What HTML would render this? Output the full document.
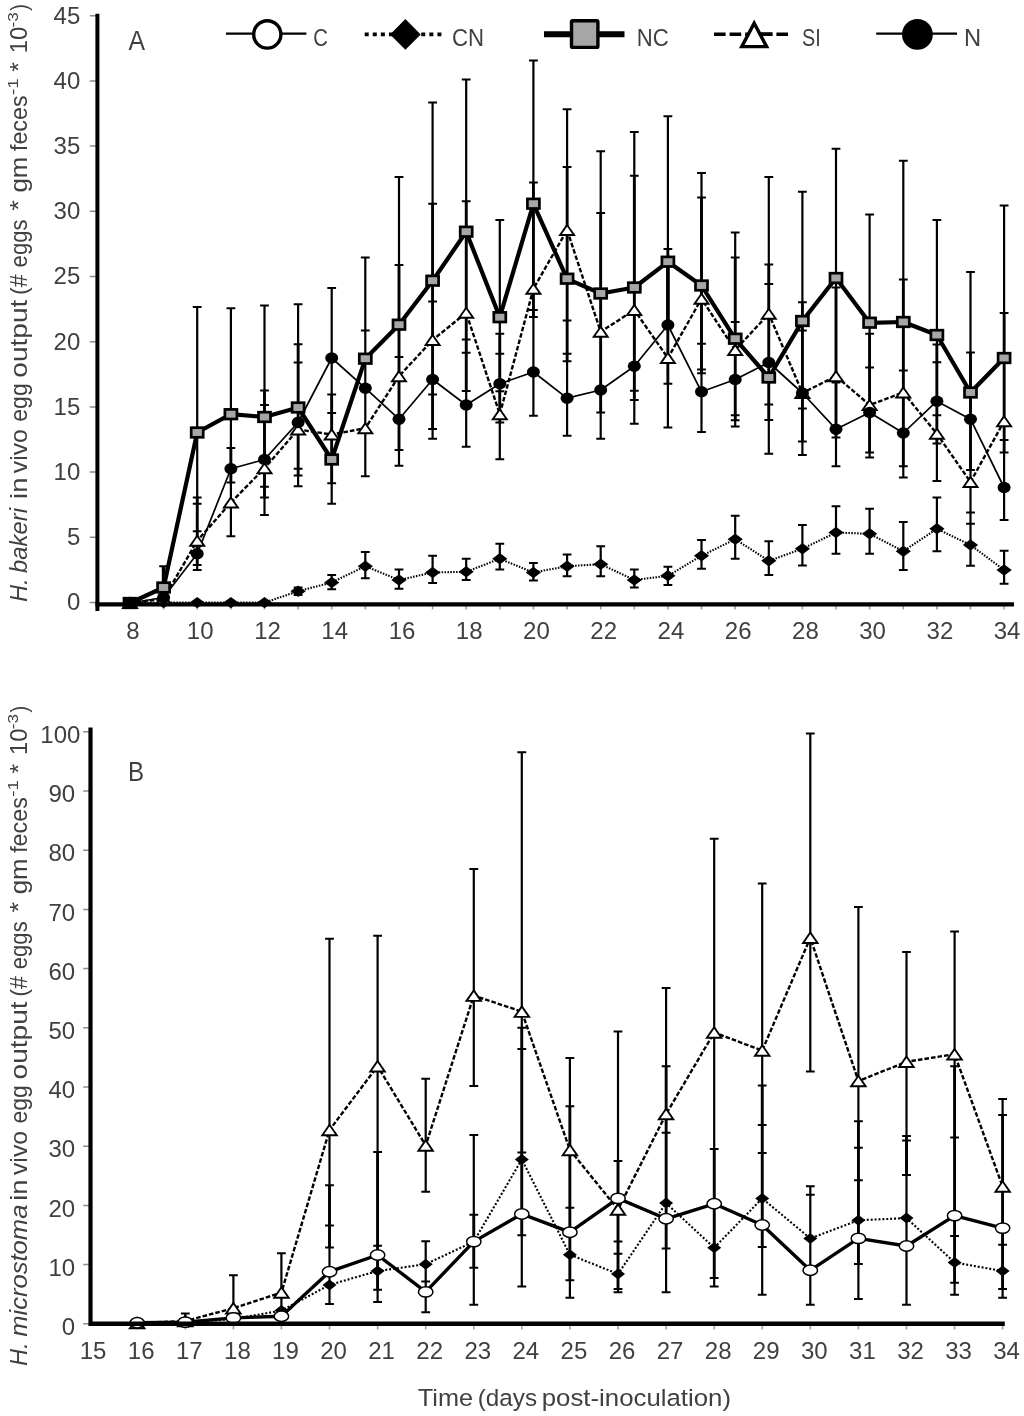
<!DOCTYPE html>
<html lang="en">
<head>
<meta charset="utf-8">
<title>In vivo egg output</title>
<style>
html,body{margin:0;padding:0;background:#fff;}
svg{display:block;}
text{font-family:'Liberation Sans', 'DejaVu Sans', sans-serif;fill:#404040;}
</style>
</head>
<body>
<svg width="1024" height="1416" viewBox="0 0 1024 1416" role="img" aria-label="In vivo egg output charts">
<rect width="1024" height="1416" fill="#fff"/>
<defs><filter id="soft" x="0" y="0" width="1024" height="1416" filterUnits="userSpaceOnUse"><feGaussianBlur stdDeviation="0.45"/></filter></defs>
<g filter="url(#soft)">
<g id="chartA">
<path d="M89.8 602.5H96M89.8 537.3H96M89.8 472.1H96M89.8 406.9H96M89.8 341.7H96M89.8 276.5H96M89.8 211.3H96M89.8 146.1H96M89.8 80.9H96M89.8 15.7H96" stroke="#8c8c8c" stroke-width="1.5" fill="none"/>
<path d="M163.6 606V609.5M197.2 606V609.5M230.9 606V609.5M264.5 606V609.5M298.1 606V609.5M331.7 606V609.5M365.3 606V609.5M399.0 606V609.5M432.6 606V609.5M466.2 606V609.5M499.8 606V609.5M533.4 606V609.5M567.1 606V609.5M600.7 606V609.5M634.3 606V609.5M667.9 606V609.5M701.5 606V609.5M735.2 606V609.5M768.8 606V609.5M802.4 606V609.5M836.0 606V609.5M869.6 606V609.5M903.3 606V609.5M936.9 606V609.5M970.5 606V609.5M1004.1 606V609.5" stroke="#a0a0a0" stroke-width="1.6" fill="none"/>
<text x="80.3" y="610.4" font-size="24" text-anchor="end" >0</text>
<text x="80.3" y="545.2" font-size="24" text-anchor="end" >5</text>
<text x="80.3" y="480.0" font-size="24" text-anchor="end" >10</text>
<text x="80.3" y="414.8" font-size="24" text-anchor="end" >15</text>
<text x="80.3" y="349.6" font-size="24" text-anchor="end" >20</text>
<text x="80.3" y="284.4" font-size="24" text-anchor="end" >25</text>
<text x="80.3" y="219.2" font-size="24" text-anchor="end" >30</text>
<text x="80.3" y="154.0" font-size="24" text-anchor="end" >35</text>
<text x="80.3" y="88.8" font-size="24" text-anchor="end" >40</text>
<text x="80.3" y="23.6" font-size="24" text-anchor="end" >45</text>
<text x="133.0" y="639.2" font-size="24" text-anchor="middle" >8</text>
<text x="200.2" y="639.2" font-size="24" text-anchor="middle" >10</text>
<text x="267.5" y="639.2" font-size="24" text-anchor="middle" >12</text>
<text x="334.7" y="639.2" font-size="24" text-anchor="middle" >14</text>
<text x="402.0" y="639.2" font-size="24" text-anchor="middle" >16</text>
<text x="469.2" y="639.2" font-size="24" text-anchor="middle" >18</text>
<text x="536.4" y="639.2" font-size="24" text-anchor="middle" >20</text>
<text x="603.7" y="639.2" font-size="24" text-anchor="middle" >22</text>
<text x="670.9" y="639.2" font-size="24" text-anchor="middle" >24</text>
<text x="738.2" y="639.2" font-size="24" text-anchor="middle" >26</text>
<text x="805.4" y="639.2" font-size="24" text-anchor="middle" >28</text>
<text x="872.6" y="639.2" font-size="24" text-anchor="middle" >30</text>
<text x="939.9" y="639.2" font-size="24" text-anchor="middle" >32</text>
<text x="1007.1" y="639.2" font-size="24" text-anchor="middle" >34</text>
<path d="M163.6 566.2V600.0M197.2 307.0V570.0M230.9 308.2V536.2M264.5 305.5V515.0M298.1 304.2V486.2M331.7 288.1V503.8M365.3 257.5V476.2M399.0 177.0V465.8M432.6 102.5V438.8M466.2 79.5V446.8M499.8 220.0V459.2M533.4 60.5V415.8M567.1 109.2V435.8M600.7 151.2V438.8M634.3 132.0V423.8M667.9 116.2V427.5M701.5 173.0V432.0M735.2 232.5V426.2M768.8 177.0V453.8M802.4 191.8V455.0M836.0 148.8V466.2M869.6 214.5V457.5M903.3 160.8V477.5M936.9 220.0V481.2M970.5 272.0V524.0M1004.1 205.5V520.0" stroke="#000" stroke-width="2.2" fill="none"/>
<path d="M197.2 497.5V565.0M230.9 448.0V482.5M264.5 390.5V497.5M298.1 344.2V475.5M331.7 394.5V483.2M399.0 265.0V450.0M432.6 203.8V429.1M466.2 201.2V390.9M499.8 333.8V422.5M533.4 182.5V317.0M567.1 167.0V361.2M600.7 213.0V412.5M634.3 175.8V400.0M667.9 249.0V383.8M701.5 197.5V373.2M735.2 257.5V420.2M768.8 264.5V420.0M802.4 302.3V441.4M836.0 287.5V437.5M869.6 333.8V452.5M903.3 279.5V466.2M936.9 344.5V443.6M970.5 352.5V470.0M1004.1 313.0V452.5" stroke="#000" stroke-width="2.8" fill="none"/>
<path d="M159.2 566.2H168.0M192.8 307.0H201.6M192.8 497.5H201.6M192.8 503.8H201.6M192.8 531.2H201.6M192.8 565.0H201.6M192.8 570.0H201.6M226.5 308.2H235.3M226.5 448.0H235.3M226.5 482.5H235.3M226.5 536.2H235.3M260.1 305.5H268.9M260.1 390.5H268.9M260.1 405.0H268.9M260.1 486.8H268.9M260.1 497.5H268.9M260.1 515.0H268.9M293.7 304.2H302.5M293.7 344.2H302.5M293.7 362.5H302.5M293.7 468.8H302.5M293.7 475.5H302.5M293.7 486.2H302.5M327.3 288.1H336.1M327.3 394.5H336.1M327.3 413.0H336.1M327.3 483.2H336.1M327.3 503.8H336.1M360.9 257.5H369.7M360.9 330.5H369.7M360.9 476.2H369.7M394.6 177.0H403.4M394.6 265.0H403.4M394.6 357.0H403.4M394.6 450.0H403.4M394.6 465.8H403.4M428.2 102.5H437.0M428.2 203.8H437.0M428.2 301.5H437.0M428.2 394.6H437.0M428.2 429.1H437.0M428.2 438.8H437.0M461.8 79.5H470.6M461.8 201.2H470.6M461.8 339.5H470.6M461.8 352.8H470.6M461.8 390.9H470.6M461.8 446.8H470.6M495.4 220.0H504.2M495.4 333.8H504.2M495.4 353.8H504.2M495.4 391.2H504.2M495.4 422.5H504.2M495.4 459.2H504.2M529.0 60.5H537.8M529.0 182.5H537.8M529.0 310.0H537.8M529.0 317.0H537.8M529.0 415.8H537.8M562.7 109.2H571.5M562.7 167.0H571.5M562.7 320.5H571.5M562.7 353.8H571.5M562.7 361.2H571.5M562.7 435.8H571.5M596.3 151.2H605.1M596.3 213.0H605.1M596.3 412.5H605.1M596.3 438.8H605.1M629.9 132.0H638.7M629.9 175.8H638.7M629.9 390.8H638.7M629.9 400.0H638.7M629.9 423.8H638.7M663.5 116.2H672.3M663.5 249.0H672.3M663.5 383.8H672.3M663.5 427.5H672.3M697.1 173.0H705.9M697.1 197.5H705.9M697.1 343.8H705.9M697.1 369.5H705.9M697.1 373.2H705.9M697.1 432.0H705.9M730.8 232.5H739.6M730.8 257.5H739.6M730.8 322.0H739.6M730.8 415.2H739.6M730.8 420.2H739.6M730.8 426.4H739.6M764.4 177.0H773.2M764.4 264.5H773.2M764.4 284.0H773.2M764.4 404.5H773.2M764.4 420.0H773.2M764.4 453.8H773.2M798.0 191.8H806.8M798.0 302.3H806.8M798.0 330.4H806.8M798.0 408.5H806.8M798.0 441.4H806.8M798.0 455.0H806.8M831.6 148.8H840.4M831.6 287.5H840.4M831.6 382.5H840.4M831.6 437.5H840.4M831.6 466.2H840.4M865.2 214.5H874.0M865.2 333.8H874.0M865.2 367.5H874.0M865.2 452.5H874.0M865.2 457.5H874.0M898.9 160.8H907.7M898.9 279.5H907.7M898.9 370.5H907.7M898.9 466.2H907.7M898.9 477.5H907.7M932.5 220.0H941.3M932.5 344.5H941.3M932.5 362.2H941.3M932.5 415.3H941.3M932.5 443.6H941.3M932.5 481.0H941.3M966.1 272.0H974.9M966.1 352.5H974.9M966.1 470.0H974.9M966.1 512.5H974.9M999.7 205.5H1008.5M999.7 313.0H1008.5M999.7 440.0H1008.5M999.7 452.5H1008.5M999.7 520.0H1008.5" stroke="#000" stroke-width="2.0" fill="none"/>
<path d="M667.9 262V325M163.6 567V588" stroke="#000" stroke-width="3.6" fill="none"/>
<path d="M298.1 587.5V595.0M331.7 575.0V589.2M365.3 552.0V578.2M399.0 569.5V588.8M432.6 555.8V583.0M466.2 558.8V580.0M499.8 543.8V569.5M533.4 563.0V580.5M567.1 554.5V576.2M600.7 546.2V576.2M634.3 569.5V587.5M667.9 566.8V585.0M701.5 540.0V568.8M735.2 515.8V558.8M768.8 541.2V575.0M802.4 525.0V565.5M836.0 506.2V553.8M869.6 508.8V553.8M903.3 522.0V570.0M936.9 497.5V551.2M970.5 523.8V565.8M1004.1 550.8V583.8" stroke="#000" stroke-width="2.2" fill="none"/>
<path d="M293.7 587.5H302.5M293.7 595.0H302.5M327.3 575.0H336.1M327.3 589.2H336.1M360.9 552.0H369.7M360.9 578.2H369.7M394.6 569.5H403.4M394.6 588.8H403.4M428.2 555.8H437.0M428.2 583.0H437.0M461.8 558.8H470.6M461.8 580.0H470.6M495.4 543.8H504.2M495.4 569.5H504.2M529.0 563.0H537.8M529.0 580.5H537.8M562.7 554.5H571.5M562.7 576.2H571.5M596.3 546.2H605.1M596.3 576.2H605.1M629.9 569.5H638.7M629.9 587.5H638.7M663.5 566.8H672.3M663.5 585.0H672.3M697.1 540.0H705.9M697.1 568.8H705.9M730.8 515.8H739.6M730.8 558.8H739.6M764.4 541.2H773.2M764.4 575.0H773.2M798.0 525.0H806.8M798.0 565.5H806.8M831.6 506.2H840.4M831.6 553.8H840.4M865.2 508.8H874.0M865.2 553.8H874.0M898.9 522.0H907.7M898.9 570.0H907.7M932.5 497.5H941.3M932.5 551.2H941.3M966.1 523.8H974.9M966.1 565.8H974.9M999.7 550.8H1008.5M999.7 583.8H1008.5" stroke="#000" stroke-width="2.0" fill="none"/>
<polyline points="130.0,603.0 163.6,602.6 197.2,602.6 230.9,602.6 264.5,602.6 298.1,591.2 331.7,582.5 365.3,566.2 399.0,580.0 432.6,572.5 466.2,571.8 499.8,558.8 533.4,572.5 567.1,566.2 600.7,564.2 634.3,580.0 667.9,575.8 701.5,555.8 735.2,539.2 768.8,560.8 802.4,548.8 836.0,532.5 869.6,533.8 903.3,551.2 936.9,528.8 970.5,545.0 1004.1,570.0" fill="none" stroke="#000" stroke-linejoin="round" stroke-width="2.1" stroke-dasharray="1.5 1.4"/>
<polyline points="130.0,603.0 163.6,587.5 197.2,432.5 230.9,414.2 264.5,417.0 298.1,407.5 331.7,459.5 365.3,358.8 399.0,324.8 432.6,280.8 466.2,231.8 499.8,317.2 533.4,203.8 567.1,278.8 600.7,293.5 634.3,287.5 667.9,261.8 701.5,285.5 735.2,338.8 768.8,377.5 802.4,321.0 836.0,278.0 869.6,322.8 903.3,322.0 936.9,335.0 970.5,392.5 1004.1,358.0" fill="none" stroke="#000" stroke-linejoin="round" stroke-width="4.2"/>
<polyline points="130.0,603.0 163.6,598.8 197.2,540.8 230.9,502.5 264.5,468.2 298.1,429.5 331.7,434.5 365.3,428.2 399.0,376.2 432.6,340.0 466.2,312.8 499.8,414.2 533.4,288.8 567.1,230.0 600.7,331.8 634.3,310.0 667.9,358.0 701.5,298.8 735.2,350.0 768.8,313.8 802.4,393.0 836.0,376.2 869.6,405.0 903.3,392.5 936.9,433.8 970.5,482.0 1004.1,421.2" fill="none" stroke="#000" stroke-linejoin="round" stroke-width="2.4" stroke-dasharray="4.6 2"/>
<polyline points="130.0,603.0 163.6,597.5 197.2,553.8 230.9,468.8 264.5,459.5 298.1,422.5 331.7,358.0 365.3,388.2 399.0,419.2 432.6,379.5 466.2,405.0 499.8,383.8 533.4,372.0 567.1,398.2 600.7,390.0 634.3,366.2 667.9,325.0 701.5,391.8 735.2,379.5 768.8,362.5 802.4,393.0 836.0,429.2 869.6,412.5 903.3,433.0 936.9,401.2 970.5,419.2 1004.1,487.5" fill="none" stroke="#000" stroke-linejoin="round" stroke-width="1.7"/>
<path d="M130.0 597.3L137.6 603.0L130.0 608.7L122.4 603.0ZM163.6 596.9L171.2 602.6L163.6 608.3L156.0 602.6ZM197.2 596.9L204.8 602.6L197.2 608.3L189.6 602.6ZM230.9 596.9L238.5 602.6L230.9 608.3L223.3 602.6ZM264.5 596.9L272.1 602.6L264.5 608.3L256.9 602.6ZM298.1 585.5L305.7 591.2L298.1 597.0L290.5 591.2ZM331.7 576.8L339.3 582.5L331.7 588.2L324.1 582.5ZM365.3 560.5L372.9 566.2L365.3 572.0L357.7 566.2ZM399.0 574.3L406.6 580.0L399.0 585.7L391.4 580.0ZM432.6 566.8L440.2 572.5L432.6 578.2L425.0 572.5ZM466.2 566.0L473.8 571.8L466.2 577.5L458.6 571.8ZM499.8 553.0L507.4 558.8L499.8 564.5L492.2 558.8ZM533.4 566.8L541.0 572.5L533.4 578.2L525.8 572.5ZM567.1 560.5L574.7 566.2L567.1 572.0L559.5 566.2ZM600.7 558.5L608.3 564.2L600.7 570.0L593.1 564.2ZM634.3 574.3L641.9 580.0L634.3 585.7L626.7 580.0ZM667.9 570.0L675.5 575.8L667.9 581.5L660.3 575.8ZM701.5 550.0L709.1 555.8L701.5 561.5L693.9 555.8ZM735.2 533.5L742.8 539.2L735.2 545.0L727.6 539.2ZM768.8 555.0L776.4 560.8L768.8 566.5L761.2 560.8ZM802.4 543.0L810.0 548.8L802.4 554.5L794.8 548.8ZM836.0 526.8L843.6 532.5L836.0 538.2L828.4 532.5ZM869.6 528.0L877.2 533.8L869.6 539.5L862.0 533.8ZM903.3 545.5L910.9 551.2L903.3 557.0L895.7 551.2ZM936.9 523.0L944.5 528.8L936.9 534.5L929.3 528.8ZM970.5 539.3L978.1 545.0L970.5 550.7L962.9 545.0ZM1004.1 564.3L1011.7 570.0L1004.1 575.7L996.5 570.0Z" fill="#000"/>
<rect x="124.0" y="598.2" width="12.0" height="9.6" fill="#a6a6a6" stroke="#000" stroke-width="2.7"/>
<rect x="157.6" y="582.7" width="12.0" height="9.6" fill="#a6a6a6" stroke="#000" stroke-width="2.7"/>
<rect x="191.2" y="427.7" width="12.0" height="9.6" fill="#a6a6a6" stroke="#000" stroke-width="2.7"/>
<rect x="224.9" y="409.4" width="12.0" height="9.6" fill="#a6a6a6" stroke="#000" stroke-width="2.7"/>
<rect x="258.5" y="412.2" width="12.0" height="9.6" fill="#a6a6a6" stroke="#000" stroke-width="2.7"/>
<rect x="292.1" y="402.7" width="12.0" height="9.6" fill="#a6a6a6" stroke="#000" stroke-width="2.7"/>
<rect x="325.7" y="454.7" width="12.0" height="9.6" fill="#a6a6a6" stroke="#000" stroke-width="2.7"/>
<rect x="359.3" y="353.9" width="12.0" height="9.6" fill="#a6a6a6" stroke="#000" stroke-width="2.7"/>
<rect x="393.0" y="319.9" width="12.0" height="9.6" fill="#a6a6a6" stroke="#000" stroke-width="2.7"/>
<rect x="426.6" y="275.9" width="12.0" height="9.6" fill="#a6a6a6" stroke="#000" stroke-width="2.7"/>
<rect x="460.2" y="226.9" width="12.0" height="9.6" fill="#a6a6a6" stroke="#000" stroke-width="2.7"/>
<rect x="493.8" y="312.4" width="12.0" height="9.6" fill="#a6a6a6" stroke="#000" stroke-width="2.7"/>
<rect x="527.4" y="198.9" width="12.0" height="9.6" fill="#a6a6a6" stroke="#000" stroke-width="2.7"/>
<rect x="561.1" y="273.9" width="12.0" height="9.6" fill="#a6a6a6" stroke="#000" stroke-width="2.7"/>
<rect x="594.7" y="288.7" width="12.0" height="9.6" fill="#a6a6a6" stroke="#000" stroke-width="2.7"/>
<rect x="628.3" y="282.7" width="12.0" height="9.6" fill="#a6a6a6" stroke="#000" stroke-width="2.7"/>
<rect x="661.9" y="256.9" width="12.0" height="9.6" fill="#a6a6a6" stroke="#000" stroke-width="2.7"/>
<rect x="695.5" y="280.7" width="12.0" height="9.6" fill="#a6a6a6" stroke="#000" stroke-width="2.7"/>
<rect x="729.2" y="333.9" width="12.0" height="9.6" fill="#a6a6a6" stroke="#000" stroke-width="2.7"/>
<rect x="762.8" y="372.7" width="12.0" height="9.6" fill="#a6a6a6" stroke="#000" stroke-width="2.7"/>
<rect x="796.4" y="316.2" width="12.0" height="9.6" fill="#a6a6a6" stroke="#000" stroke-width="2.7"/>
<rect x="830.0" y="273.2" width="12.0" height="9.6" fill="#a6a6a6" stroke="#000" stroke-width="2.7"/>
<rect x="863.6" y="317.9" width="12.0" height="9.6" fill="#a6a6a6" stroke="#000" stroke-width="2.7"/>
<rect x="897.3" y="317.2" width="12.0" height="9.6" fill="#a6a6a6" stroke="#000" stroke-width="2.7"/>
<rect x="930.9" y="330.2" width="12.0" height="9.6" fill="#a6a6a6" stroke="#000" stroke-width="2.7"/>
<rect x="964.5" y="387.7" width="12.0" height="9.6" fill="#a6a6a6" stroke="#000" stroke-width="2.7"/>
<rect x="998.1" y="353.2" width="12.0" height="9.6" fill="#a6a6a6" stroke="#000" stroke-width="2.7"/>
<path d="M130.0 598.0L137.0 608.0H123.0Z" fill="#fff" stroke="#000" stroke-width="1.9" stroke-linejoin="miter"/>
<path d="M163.6 593.8L170.6 603.8H156.6Z" fill="#fff" stroke="#000" stroke-width="1.9" stroke-linejoin="miter"/>
<path d="M197.2 535.8L204.2 545.8H190.2Z" fill="#fff" stroke="#000" stroke-width="1.9" stroke-linejoin="miter"/>
<path d="M230.9 497.5L237.9 507.5H223.9Z" fill="#fff" stroke="#000" stroke-width="1.9" stroke-linejoin="miter"/>
<path d="M264.5 463.2L271.5 473.2H257.5Z" fill="#fff" stroke="#000" stroke-width="1.9" stroke-linejoin="miter"/>
<path d="M298.1 424.5L305.1 434.5H291.1Z" fill="#fff" stroke="#000" stroke-width="1.9" stroke-linejoin="miter"/>
<path d="M331.7 429.5L338.7 439.5H324.7Z" fill="#fff" stroke="#000" stroke-width="1.9" stroke-linejoin="miter"/>
<path d="M365.3 423.2L372.3 433.2H358.3Z" fill="#fff" stroke="#000" stroke-width="1.9" stroke-linejoin="miter"/>
<path d="M399.0 371.2L406.0 381.2H392.0Z" fill="#fff" stroke="#000" stroke-width="1.9" stroke-linejoin="miter"/>
<path d="M432.6 335.0L439.6 345.0H425.6Z" fill="#fff" stroke="#000" stroke-width="1.9" stroke-linejoin="miter"/>
<path d="M466.2 307.8L473.2 317.8H459.2Z" fill="#fff" stroke="#000" stroke-width="1.9" stroke-linejoin="miter"/>
<path d="M499.8 409.2L506.8 419.2H492.8Z" fill="#fff" stroke="#000" stroke-width="1.9" stroke-linejoin="miter"/>
<path d="M533.4 283.8L540.4 293.8H526.4Z" fill="#fff" stroke="#000" stroke-width="1.9" stroke-linejoin="miter"/>
<path d="M567.1 225.0L574.1 235.0H560.1Z" fill="#fff" stroke="#000" stroke-width="1.9" stroke-linejoin="miter"/>
<path d="M600.7 326.8L607.7 336.8H593.7Z" fill="#fff" stroke="#000" stroke-width="1.9" stroke-linejoin="miter"/>
<path d="M634.3 305.0L641.3 315.0H627.3Z" fill="#fff" stroke="#000" stroke-width="1.9" stroke-linejoin="miter"/>
<path d="M667.9 353.0L674.9 363.0H660.9Z" fill="#fff" stroke="#000" stroke-width="1.9" stroke-linejoin="miter"/>
<path d="M701.5 293.8L708.5 303.8H694.5Z" fill="#fff" stroke="#000" stroke-width="1.9" stroke-linejoin="miter"/>
<path d="M735.2 345.0L742.2 355.0H728.2Z" fill="#fff" stroke="#000" stroke-width="1.9" stroke-linejoin="miter"/>
<path d="M768.8 308.8L775.8 318.8H761.8Z" fill="#fff" stroke="#000" stroke-width="1.9" stroke-linejoin="miter"/>
<path d="M802.4 388.0L809.4 398.0H795.4Z" fill="#fff" stroke="#000" stroke-width="1.9" stroke-linejoin="miter"/>
<path d="M836.0 371.2L843.0 381.2H829.0Z" fill="#fff" stroke="#000" stroke-width="1.9" stroke-linejoin="miter"/>
<path d="M869.6 400.0L876.6 410.0H862.6Z" fill="#fff" stroke="#000" stroke-width="1.9" stroke-linejoin="miter"/>
<path d="M903.3 387.5L910.3 397.5H896.3Z" fill="#fff" stroke="#000" stroke-width="1.9" stroke-linejoin="miter"/>
<path d="M936.9 428.8L943.9 438.8H929.9Z" fill="#fff" stroke="#000" stroke-width="1.9" stroke-linejoin="miter"/>
<path d="M970.5 477.0L977.5 487.0H963.5Z" fill="#fff" stroke="#000" stroke-width="1.9" stroke-linejoin="miter"/>
<path d="M1004.1 416.2L1011.1 426.2H997.1Z" fill="#fff" stroke="#000" stroke-width="1.9" stroke-linejoin="miter"/>
<ellipse cx="130.0" cy="603.0" rx="6.5" ry="5.7" fill="#000" stroke="#000" stroke-width="0"/>
<ellipse cx="163.6" cy="597.5" rx="6.5" ry="5.7" fill="#000" stroke="#000" stroke-width="0"/>
<ellipse cx="197.2" cy="553.8" rx="6.5" ry="5.7" fill="#000" stroke="#000" stroke-width="0"/>
<ellipse cx="230.9" cy="468.8" rx="6.5" ry="5.7" fill="#000" stroke="#000" stroke-width="0"/>
<ellipse cx="264.5" cy="459.5" rx="6.5" ry="5.7" fill="#000" stroke="#000" stroke-width="0"/>
<ellipse cx="298.1" cy="422.5" rx="6.5" ry="5.7" fill="#000" stroke="#000" stroke-width="0"/>
<ellipse cx="331.7" cy="358.0" rx="6.5" ry="5.7" fill="#000" stroke="#000" stroke-width="0"/>
<ellipse cx="365.3" cy="388.2" rx="6.5" ry="5.7" fill="#000" stroke="#000" stroke-width="0"/>
<ellipse cx="399.0" cy="419.2" rx="6.5" ry="5.7" fill="#000" stroke="#000" stroke-width="0"/>
<ellipse cx="432.6" cy="379.5" rx="6.5" ry="5.7" fill="#000" stroke="#000" stroke-width="0"/>
<ellipse cx="466.2" cy="405.0" rx="6.5" ry="5.7" fill="#000" stroke="#000" stroke-width="0"/>
<ellipse cx="499.8" cy="383.8" rx="6.5" ry="5.7" fill="#000" stroke="#000" stroke-width="0"/>
<ellipse cx="533.4" cy="372.0" rx="6.5" ry="5.7" fill="#000" stroke="#000" stroke-width="0"/>
<ellipse cx="567.1" cy="398.2" rx="6.5" ry="5.7" fill="#000" stroke="#000" stroke-width="0"/>
<ellipse cx="600.7" cy="390.0" rx="6.5" ry="5.7" fill="#000" stroke="#000" stroke-width="0"/>
<ellipse cx="634.3" cy="366.2" rx="6.5" ry="5.7" fill="#000" stroke="#000" stroke-width="0"/>
<ellipse cx="667.9" cy="325.0" rx="6.5" ry="5.7" fill="#000" stroke="#000" stroke-width="0"/>
<ellipse cx="701.5" cy="391.8" rx="6.5" ry="5.7" fill="#000" stroke="#000" stroke-width="0"/>
<ellipse cx="735.2" cy="379.5" rx="6.5" ry="5.7" fill="#000" stroke="#000" stroke-width="0"/>
<ellipse cx="768.8" cy="362.5" rx="6.5" ry="5.7" fill="#000" stroke="#000" stroke-width="0"/>
<ellipse cx="802.4" cy="393.0" rx="6.5" ry="5.7" fill="#000" stroke="#000" stroke-width="0"/>
<ellipse cx="836.0" cy="429.2" rx="6.5" ry="5.7" fill="#000" stroke="#000" stroke-width="0"/>
<ellipse cx="869.6" cy="412.5" rx="6.5" ry="5.7" fill="#000" stroke="#000" stroke-width="0"/>
<ellipse cx="903.3" cy="433.0" rx="6.5" ry="5.7" fill="#000" stroke="#000" stroke-width="0"/>
<ellipse cx="936.9" cy="401.2" rx="6.5" ry="5.7" fill="#000" stroke="#000" stroke-width="0"/>
<ellipse cx="970.5" cy="419.2" rx="6.5" ry="5.7" fill="#000" stroke="#000" stroke-width="0"/>
<ellipse cx="1004.1" cy="487.5" rx="6.5" ry="5.7" fill="#000" stroke="#000" stroke-width="0"/>
<path d="M97.4 13.8V611" stroke="#000" stroke-width="4" fill="none"/>
<path d="M95.4 604.3H1014" stroke="#000" stroke-width="4.2" fill="none"/>
</g>
<g id="legend">
<path d="M226 33.6H306.4" stroke="#000" stroke-width="2.2"/>
<ellipse cx="267.3" cy="34.4" rx="13.6" ry="13.7" fill="#fff" stroke="#000" stroke-width="3.4"/>
<text x="313.17" y="45.7" font-size="24.5" textLength="14.62" lengthAdjust="spacingAndGlyphs">C</text>
<path d="M364.7 34.4H442.3" stroke="#000" stroke-width="3.8" stroke-dasharray="4 4.08"/>
<path d="M405.4 19L420.7 34.4L405.4 49.8L390.1 34.4Z" fill="#000"/>
<text x="451.97" y="45.7" font-size="24.5" textLength="32.04" lengthAdjust="spacingAndGlyphs">CN</text>
<path d="M544 34.2H624.5" stroke="#000" stroke-width="6"/>
<rect x="571.5" y="20.8" width="26.4" height="26.6" rx="1.2" fill="#a6a6a6" stroke="#000" stroke-width="3.4"/>
<text x="636.70" y="45.7" font-size="24.5" textLength="31.91" lengthAdjust="spacingAndGlyphs">NC</text>
<path d="M714 34.2H790" stroke="#000" stroke-width="3.6" stroke-dasharray="11.6 4"/>
<path d="M754.2 23.2L766.6 46.6H741.8Z" fill="#fff" stroke="#000" stroke-width="3.4"/>
<path d="M760.8 34.2H772.4" stroke="#000" stroke-width="3.6"/>
<text x="801.99" y="45.7" font-size="24.5" textLength="18.70" lengthAdjust="spacingAndGlyphs">SI</text>
<path d="M876.2 33.6H957" stroke="#000" stroke-width="2.2"/>
<ellipse cx="917.4" cy="34.4" rx="15.4" ry="15.4" fill="#000"/>
<text x="963.97" y="45.7" font-size="24.5" textLength="17.12" lengthAdjust="spacingAndGlyphs">N</text>
<text x="128.40" y="49.6" font-size="28" textLength="16.57" lengthAdjust="spacingAndGlyphs">A</text>
</g>
<g id="chartB">
<path d="M83.2 1323.8H89.5M83.2 1264.6H89.5M83.2 1205.4H89.5M83.2 1146.2H89.5M83.2 1087.0H89.5M83.2 1027.8H89.5M83.2 968.6H89.5M83.2 909.4H89.5M83.2 850.2H89.5M83.2 791.0H89.5M83.2 731.8H89.5" stroke="#8c8c8c" stroke-width="1.5" fill="none"/>
<path d="M137.2 1326V1329.6M185.3 1326V1329.6M233.4 1326V1329.6M281.4 1326V1329.6M329.5 1326V1329.6M377.6 1326V1329.6M425.7 1326V1329.6M473.8 1326V1329.6M521.8 1326V1329.6M569.9 1326V1329.6M618.0 1326V1329.6M666.1 1326V1329.6M714.2 1326V1329.6M762.2 1326V1329.6M810.3 1326V1329.6M858.4 1326V1329.6M906.5 1326V1329.6M954.6 1326V1329.6M1002.6 1326V1329.6" stroke="#a0a0a0" stroke-width="1.6" fill="none"/>
<text x="75.2" y="1335.0" font-size="24" text-anchor="end" >0</text>
<text x="75.2" y="1275.8" font-size="24" text-anchor="end" >10</text>
<text x="75.2" y="1216.6" font-size="24" text-anchor="end" >20</text>
<text x="75.2" y="1157.4" font-size="24" text-anchor="end" >30</text>
<text x="75.2" y="1098.2" font-size="24" text-anchor="end" >40</text>
<text x="75.2" y="1039.0" font-size="24" text-anchor="end" >50</text>
<text x="75.2" y="979.8" font-size="24" text-anchor="end" >60</text>
<text x="75.2" y="920.6" font-size="24" text-anchor="end" >70</text>
<text x="75.2" y="861.4" font-size="24" text-anchor="end" >80</text>
<text x="75.2" y="802.2" font-size="24" text-anchor="end" >90</text>
<text x="80.4" y="743.0" font-size="24" text-anchor="end" >100</text>
<text x="93.1" y="1359.0" font-size="24" text-anchor="middle" >15</text>
<text x="141.2" y="1359.0" font-size="24" text-anchor="middle" >16</text>
<text x="189.3" y="1359.0" font-size="24" text-anchor="middle" >17</text>
<text x="237.4" y="1359.0" font-size="24" text-anchor="middle" >18</text>
<text x="285.4" y="1359.0" font-size="24" text-anchor="middle" >19</text>
<text x="333.5" y="1359.0" font-size="24" text-anchor="middle" >20</text>
<text x="381.6" y="1359.0" font-size="24" text-anchor="middle" >21</text>
<text x="429.7" y="1359.0" font-size="24" text-anchor="middle" >22</text>
<text x="477.8" y="1359.0" font-size="24" text-anchor="middle" >23</text>
<text x="525.8" y="1359.0" font-size="24" text-anchor="middle" >24</text>
<text x="573.9" y="1359.0" font-size="24" text-anchor="middle" >25</text>
<text x="622.0" y="1359.0" font-size="24" text-anchor="middle" >26</text>
<text x="670.1" y="1359.0" font-size="24" text-anchor="middle" >27</text>
<text x="718.2" y="1359.0" font-size="24" text-anchor="middle" >28</text>
<text x="766.2" y="1359.0" font-size="24" text-anchor="middle" >29</text>
<text x="814.3" y="1359.0" font-size="24" text-anchor="middle" >30</text>
<text x="862.4" y="1359.0" font-size="24" text-anchor="middle" >31</text>
<text x="910.5" y="1359.0" font-size="24" text-anchor="middle" >32</text>
<text x="958.6" y="1359.0" font-size="24" text-anchor="middle" >33</text>
<text x="1006.6" y="1359.0" font-size="24" text-anchor="middle" >34</text>
<path d="M185.3 1313.4V1322.0M233.4 1275.2V1318.0M281.4 1253.3V1316.0M329.5 938.8V1304.0M377.6 935.8V1302.0M425.7 1078.8V1191.7M425.7 1241.3V1312.2M473.8 869.0V1086.1M473.8 1135.0V1304.7M521.8 752.2V1286.6M569.9 1058.0V1297.8M618.0 1031.6V1292.2M666.1 988.1V1292.2M714.2 838.8V1286.6M762.2 883.4V1294.7M810.3 733.4V1071.4M810.3 1186.2V1304.7M858.4 906.9V1299.0M906.5 951.9V1304.7M954.6 931.6V1294.7M1002.6 1099.0V1297.8" stroke="#000" stroke-width="2.2" fill="none"/>
<path d="M329.5 1185.3V1247.4M377.6 1152.1V1289.8M473.8 1214.7V1267.8M521.8 1027.8V1235.3M569.9 1106.2V1280.3M618.0 1161.0V1289.0M666.1 1066.3V1248.4M714.2 1149.0V1278.1M762.2 1085.5V1246.9M858.4 1121.2V1264.0M906.5 1136.0V1175.0M954.6 1066.3V1282.8M1002.6 1115.0V1289.0" stroke="#000" stroke-width="2.8" fill="none"/>
<path d="M180.9 1313.4H189.7M229.0 1275.2H237.8M277.0 1253.3H285.8M325.1 938.8H333.9M325.1 1185.3H333.9M325.1 1225.6H333.9M325.1 1247.4H333.9M325.1 1304.0H333.9M373.2 935.8H382.0M373.2 1152.1H382.0M373.2 1245.7H382.0M373.2 1289.8H382.0M373.2 1302.0H382.0M421.3 1078.8H430.1M421.3 1191.7H430.1M421.3 1241.3H430.1M421.3 1281.5H430.1M421.3 1312.2H430.1M469.4 869.0H478.2M469.4 1086.1H478.2M469.4 1135.0H478.2M469.4 1214.7H478.2M469.4 1267.8H478.2M469.4 1304.7H478.2M517.4 752.2H526.2M517.4 1027.8H526.2M517.4 1049.0H526.2M517.4 1152.5H526.2M517.4 1235.3H526.2M517.4 1286.6H526.2M565.5 1058.0H574.3M565.5 1106.2H574.3M565.5 1207.8H574.3M565.5 1280.3H574.3M565.5 1297.8H574.3M613.6 1031.6H622.4M613.6 1161.0H622.4M613.6 1241.6H622.4M613.6 1253.8H622.4M613.6 1289.0H622.4M613.6 1292.2H622.4M661.7 988.1H670.5M661.7 1066.3H670.5M661.7 1132.8H670.5M661.7 1248.4H670.5M661.7 1292.2H670.5M709.8 838.8H718.6M709.8 1149.0H718.6M709.8 1278.1H718.6M709.8 1286.6H718.6M757.8 883.4H766.6M757.8 1085.5H766.6M757.8 1125.0H766.6M757.8 1153.1H766.6M757.8 1246.9H766.6M757.8 1294.7H766.6M805.9 733.4H814.7M805.9 1071.4H814.7M805.9 1186.2H814.7M805.9 1194.8H814.7M805.9 1304.7H814.7M854.0 906.9H862.8M854.0 1121.2H862.8M854.0 1147.8H862.8M854.0 1180.3H862.8M854.0 1264.0H862.8M854.0 1299.0H862.8M902.1 951.9H910.9M902.1 1136.0H910.9M902.1 1140.6H910.9M902.1 1175.0H910.9M902.1 1304.7H910.9M950.2 931.6H959.0M950.2 1066.3H959.0M950.2 1137.5H959.0M950.2 1236.0H959.0M950.2 1282.8H959.0M950.2 1294.7H959.0M998.2 1099.0H1007.0M998.2 1115.0H1007.0M998.2 1244.7H1007.0M998.2 1289.0H1007.0M998.2 1297.8H1007.0" stroke="#000" stroke-width="2.0" fill="none"/>
<polyline points="137.2,1323.0 185.3,1321.0 233.4,1308.2 281.4,1292.6 329.5,1130.0 377.6,1066.2 425.7,1145.5 473.8,995.6 521.8,1011.6 569.9,1150.0 618.0,1209.4 666.1,1114.0 714.2,1032.5 762.2,1050.6 810.3,937.8 858.4,1081.0 906.5,1061.8 954.6,1054.2 1002.6,1186.6" fill="none" stroke="#000" stroke-linejoin="round" stroke-width="2.4" stroke-dasharray="4.6 2"/>
<polyline points="137.2,1323.0 185.3,1322.5 233.4,1319.0 281.4,1310.6 329.5,1284.9 377.6,1271.0 425.7,1264.2 473.8,1241.6 521.8,1159.4 569.9,1254.7 618.0,1274.0 666.1,1203.1 714.2,1247.8 762.2,1198.4 810.3,1238.4 858.4,1220.3 906.5,1218.1 954.6,1262.5 1002.6,1271.0" fill="none" stroke="#000" stroke-linejoin="round" stroke-width="2.1" stroke-dasharray="2 1.9"/>
<polyline points="137.2,1322.8 185.3,1322.1 233.4,1317.9 281.4,1316.2 329.5,1271.7 377.6,1255.0 425.7,1291.9 473.8,1241.6 521.8,1214.0 569.9,1232.2 618.0,1198.4 666.1,1218.8 714.2,1203.8 762.2,1225.0 810.3,1270.3 858.4,1238.4 906.5,1246.0 954.6,1215.6 1002.6,1228.1" fill="none" stroke="#000" stroke-linejoin="round" stroke-width="3.4"/>
<path d="M137.2 1317.8L144.4 1328.2H129.9Z" fill="#fff" stroke="#000" stroke-width="1.9" stroke-linejoin="miter"/>
<path d="M185.3 1315.8L192.5 1326.2H178.0Z" fill="#fff" stroke="#000" stroke-width="1.9" stroke-linejoin="miter"/>
<path d="M233.4 1303.0L240.6 1313.5H226.1Z" fill="#fff" stroke="#000" stroke-width="1.9" stroke-linejoin="miter"/>
<path d="M281.4 1287.3L288.7 1297.8H274.2Z" fill="#fff" stroke="#000" stroke-width="1.9" stroke-linejoin="miter"/>
<path d="M329.5 1124.8L336.8 1135.2H322.3Z" fill="#fff" stroke="#000" stroke-width="1.9" stroke-linejoin="miter"/>
<path d="M377.6 1061.0L384.8 1071.5H370.3Z" fill="#fff" stroke="#000" stroke-width="1.9" stroke-linejoin="miter"/>
<path d="M425.7 1140.2L432.9 1150.8H418.4Z" fill="#fff" stroke="#000" stroke-width="1.9" stroke-linejoin="miter"/>
<path d="M473.8 990.4L481.0 1000.9H466.5Z" fill="#fff" stroke="#000" stroke-width="1.9" stroke-linejoin="miter"/>
<path d="M521.8 1006.4L529.1 1016.9H514.6Z" fill="#fff" stroke="#000" stroke-width="1.9" stroke-linejoin="miter"/>
<path d="M569.9 1144.8L577.2 1155.2H562.7Z" fill="#fff" stroke="#000" stroke-width="1.9" stroke-linejoin="miter"/>
<path d="M618.0 1204.2L625.2 1214.7H610.8Z" fill="#fff" stroke="#000" stroke-width="1.9" stroke-linejoin="miter"/>
<path d="M666.1 1108.8L673.3 1119.2H658.8Z" fill="#fff" stroke="#000" stroke-width="1.9" stroke-linejoin="miter"/>
<path d="M714.2 1027.2L721.4 1037.8H706.9Z" fill="#fff" stroke="#000" stroke-width="1.9" stroke-linejoin="miter"/>
<path d="M762.2 1045.3L769.5 1055.8H755.0Z" fill="#fff" stroke="#000" stroke-width="1.9" stroke-linejoin="miter"/>
<path d="M810.3 932.5L817.6 943.0H803.1Z" fill="#fff" stroke="#000" stroke-width="1.9" stroke-linejoin="miter"/>
<path d="M858.4 1075.8L865.6 1086.2H851.1Z" fill="#fff" stroke="#000" stroke-width="1.9" stroke-linejoin="miter"/>
<path d="M906.5 1056.5L913.7 1067.0H899.2Z" fill="#fff" stroke="#000" stroke-width="1.9" stroke-linejoin="miter"/>
<path d="M954.6 1049.0L961.8 1059.5H947.3Z" fill="#fff" stroke="#000" stroke-width="1.9" stroke-linejoin="miter"/>
<path d="M1002.6 1181.3L1009.9 1191.8H995.4Z" fill="#fff" stroke="#000" stroke-width="1.9" stroke-linejoin="miter"/>
<path d="M137.2 1317.5L144.2 1323.0L137.2 1328.5L130.2 1323.0ZM185.3 1317.0L192.3 1322.5L185.3 1328.0L178.3 1322.5ZM233.4 1313.5L240.4 1319.0L233.4 1324.5L226.4 1319.0ZM281.4 1305.1L288.4 1310.6L281.4 1316.1L274.4 1310.6ZM329.5 1279.4L336.5 1284.9L329.5 1290.4L322.5 1284.9ZM377.6 1265.5L384.6 1271.0L377.6 1276.5L370.6 1271.0ZM425.7 1258.7L432.7 1264.2L425.7 1269.7L418.7 1264.2ZM473.8 1236.1L480.8 1241.6L473.8 1247.1L466.8 1241.6ZM521.8 1153.9L528.8 1159.4L521.8 1164.9L514.8 1159.4ZM569.9 1249.2L576.9 1254.7L569.9 1260.2L562.9 1254.7ZM618.0 1268.5L625.0 1274.0L618.0 1279.5L611.0 1274.0ZM666.1 1197.6L673.1 1203.1L666.1 1208.6L659.1 1203.1ZM714.2 1242.3L721.2 1247.8L714.2 1253.3L707.2 1247.8ZM762.2 1192.9L769.2 1198.4L762.2 1203.9L755.2 1198.4ZM810.3 1232.9L817.3 1238.4L810.3 1243.9L803.3 1238.4ZM858.4 1214.8L865.4 1220.3L858.4 1225.8L851.4 1220.3ZM906.5 1212.6L913.5 1218.1L906.5 1223.6L899.5 1218.1ZM954.6 1257.0L961.6 1262.5L954.6 1268.0L947.6 1262.5ZM1002.6 1265.5L1009.6 1271.0L1002.6 1276.5L995.6 1271.0Z" fill="#000"/>
<ellipse cx="137.2" cy="1322.8" rx="7.2" ry="5.2" fill="#fff" stroke="#000" stroke-width="1.5"/>
<ellipse cx="185.3" cy="1322.1" rx="7.2" ry="5.2" fill="#fff" stroke="#000" stroke-width="1.5"/>
<ellipse cx="233.4" cy="1317.9" rx="7.2" ry="5.2" fill="#fff" stroke="#000" stroke-width="1.5"/>
<ellipse cx="281.4" cy="1316.2" rx="7.2" ry="5.2" fill="#fff" stroke="#000" stroke-width="1.5"/>
<ellipse cx="329.5" cy="1271.7" rx="7.2" ry="5.2" fill="#fff" stroke="#000" stroke-width="1.5"/>
<ellipse cx="377.6" cy="1255.0" rx="7.2" ry="5.2" fill="#fff" stroke="#000" stroke-width="1.5"/>
<ellipse cx="425.7" cy="1291.9" rx="7.2" ry="5.2" fill="#fff" stroke="#000" stroke-width="1.5"/>
<ellipse cx="473.8" cy="1241.6" rx="7.2" ry="5.2" fill="#fff" stroke="#000" stroke-width="1.5"/>
<ellipse cx="521.8" cy="1214.0" rx="7.2" ry="5.2" fill="#fff" stroke="#000" stroke-width="1.5"/>
<ellipse cx="569.9" cy="1232.2" rx="7.2" ry="5.2" fill="#fff" stroke="#000" stroke-width="1.5"/>
<ellipse cx="618.0" cy="1198.4" rx="7.2" ry="5.2" fill="#fff" stroke="#000" stroke-width="1.5"/>
<ellipse cx="666.1" cy="1218.8" rx="7.2" ry="5.2" fill="#fff" stroke="#000" stroke-width="1.5"/>
<ellipse cx="714.2" cy="1203.8" rx="7.2" ry="5.2" fill="#fff" stroke="#000" stroke-width="1.5"/>
<ellipse cx="762.2" cy="1225.0" rx="7.2" ry="5.2" fill="#fff" stroke="#000" stroke-width="1.5"/>
<ellipse cx="810.3" cy="1270.3" rx="7.2" ry="5.2" fill="#fff" stroke="#000" stroke-width="1.5"/>
<ellipse cx="858.4" cy="1238.4" rx="7.2" ry="5.2" fill="#fff" stroke="#000" stroke-width="1.5"/>
<ellipse cx="906.5" cy="1246.0" rx="7.2" ry="5.2" fill="#fff" stroke="#000" stroke-width="1.5"/>
<ellipse cx="954.6" cy="1215.6" rx="7.2" ry="5.2" fill="#fff" stroke="#000" stroke-width="1.5"/>
<ellipse cx="1002.6" cy="1228.1" rx="7.2" ry="5.2" fill="#fff" stroke="#000" stroke-width="1.5"/>
<path d="M90.5 727.5V1326" stroke="#000" stroke-width="4.2" fill="none"/>
<path d="M89 1323.8H1004.8" stroke="#000" stroke-width="4.4" fill="none"/>
<text x="127.97" y="781.3" font-size="28" textLength="16.07" lengthAdjust="spacingAndGlyphs">B</text>
</g>
<g id="titles">
<text transform="translate(26.6 601.97) rotate(-90)" font-size="24.5" textLength="23.67" lengthAdjust="spacingAndGlyphs" font-style="italic">H.</text>
<text transform="translate(26.6 572.89) rotate(-90)" font-size="24.5" textLength="64.88" lengthAdjust="spacingAndGlyphs" font-style="italic">bakeri</text>
<text transform="translate(26.6 498.97) rotate(-90)" font-size="24.5" textLength="21.44" lengthAdjust="spacingAndGlyphs">in</text>
<text transform="translate(26.6 473.25) rotate(-90)" font-size="24.5" textLength="44.15" lengthAdjust="spacingAndGlyphs">vivo</text>
<text transform="translate(26.6 421.74) rotate(-90)" font-size="24.5" textLength="38.49" lengthAdjust="spacingAndGlyphs">egg</text>
<text transform="translate(26.6 377.64) rotate(-90)" font-size="24.5" textLength="77.99" lengthAdjust="spacingAndGlyphs">output</text>
<text transform="translate(26.6 294.91) rotate(-90)" font-size="24.5" textLength="20.56" lengthAdjust="spacingAndGlyphs">(#</text>
<text transform="translate(26.6 267.40) rotate(-90)" font-size="24.5" textLength="47.90" lengthAdjust="spacingAndGlyphs">eggs</text>
<text transform="translate(26.6 210.75) rotate(-90)" font-size="24.5" textLength="10.56" lengthAdjust="spacingAndGlyphs">*</text>
<text transform="translate(26.6 192.56) rotate(-90)" font-size="24.5" textLength="35.99" lengthAdjust="spacingAndGlyphs">gm</text>
<text transform="translate(26.6 151.04) rotate(-90)" font-size="24.5" textLength="55.61" lengthAdjust="spacingAndGlyphs">feces</text>
<text transform="translate(18.400000000000002 94.91) rotate(-90)" font-size="15.5" textLength="16.67" lengthAdjust="spacingAndGlyphs">-1</text>
<text transform="translate(26.6 71.70) rotate(-90)" font-size="24.5" textLength="9.55" lengthAdjust="spacingAndGlyphs">*</text>
<text transform="translate(26.6 53.20) rotate(-90)" font-size="24.5" textLength="26.49" lengthAdjust="spacingAndGlyphs">10</text>
<text transform="translate(18.400000000000002 27.53) rotate(-90)" font-size="15.5" textLength="15.32" lengthAdjust="spacingAndGlyphs">-3</text>
<text transform="translate(26.6 10.81) rotate(-90)" font-size="24.5" textLength="6.79" lengthAdjust="spacingAndGlyphs">)</text>
<text transform="translate(26.6 1366.12) rotate(-90)" font-size="24.5" textLength="23.61" lengthAdjust="spacingAndGlyphs" font-style="italic">H.</text>
<text transform="translate(26.6 1336.82) rotate(-90)" font-size="24.5" textLength="132.22" lengthAdjust="spacingAndGlyphs" font-style="italic">microstoma</text>
<text transform="translate(26.6 1200.77) rotate(-90)" font-size="24.5" textLength="21.44" lengthAdjust="spacingAndGlyphs">in</text>
<text transform="translate(26.6 1175.05) rotate(-90)" font-size="24.5" textLength="44.15" lengthAdjust="spacingAndGlyphs">vivo</text>
<text transform="translate(26.6 1123.54) rotate(-90)" font-size="24.5" textLength="38.49" lengthAdjust="spacingAndGlyphs">egg</text>
<text transform="translate(26.6 1079.44) rotate(-90)" font-size="24.5" textLength="77.99" lengthAdjust="spacingAndGlyphs">output</text>
<text transform="translate(26.6 996.71) rotate(-90)" font-size="24.5" textLength="20.56" lengthAdjust="spacingAndGlyphs">(#</text>
<text transform="translate(26.6 969.20) rotate(-90)" font-size="24.5" textLength="47.90" lengthAdjust="spacingAndGlyphs">eggs</text>
<text transform="translate(26.6 912.55) rotate(-90)" font-size="24.5" textLength="10.56" lengthAdjust="spacingAndGlyphs">*</text>
<text transform="translate(26.6 894.36) rotate(-90)" font-size="24.5" textLength="35.99" lengthAdjust="spacingAndGlyphs">gm</text>
<text transform="translate(26.6 852.84) rotate(-90)" font-size="24.5" textLength="55.61" lengthAdjust="spacingAndGlyphs">feces</text>
<text transform="translate(18.400000000000002 796.71) rotate(-90)" font-size="15.5" textLength="16.67" lengthAdjust="spacingAndGlyphs">-1</text>
<text transform="translate(26.6 773.50) rotate(-90)" font-size="24.5" textLength="9.55" lengthAdjust="spacingAndGlyphs">*</text>
<text transform="translate(26.6 755.00) rotate(-90)" font-size="24.5" textLength="26.49" lengthAdjust="spacingAndGlyphs">10</text>
<text transform="translate(18.400000000000002 729.33) rotate(-90)" font-size="15.5" textLength="15.32" lengthAdjust="spacingAndGlyphs">-3</text>
<text transform="translate(26.6 712.61) rotate(-90)" font-size="24.5" textLength="6.79" lengthAdjust="spacingAndGlyphs">)</text>
<text x="417.88" y="1406.2" font-size="24.5" textLength="55.19" lengthAdjust="spacingAndGlyphs">Time</text>
<text x="477.72" y="1406.2" font-size="24.5" textLength="59.30" lengthAdjust="spacingAndGlyphs">(days</text>
<text x="541.72" y="1406.2" font-size="24.5" textLength="189.29" lengthAdjust="spacingAndGlyphs">post-inoculation)</text>
</g>
</g>
</svg>
</body>
</html>
